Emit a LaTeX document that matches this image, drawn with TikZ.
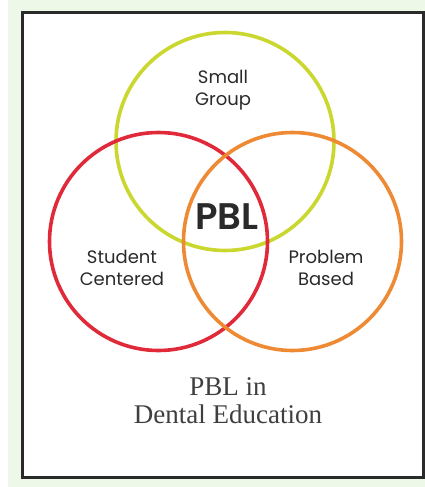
\documentclass[tikz,border=0pt]{standalone}
\usepackage{fontspec}
\setmainfont{Liberation Serif}
\newfontfamily\ringfont[BoldFont={* SemiBold}]{Poppins}
\definecolor{ringyellow}{HTML}{CAD72E}
\definecolor{ringred}{HTML}{E02A3A}
\definecolor{ringorange}{HTML}{EF8A34}
\definecolor{textgray}{HTML}{2A2A2A}
\definecolor{paper}{HTML}{EEF8E8}

\begin{document}
\begin{tikzpicture}[x=1pt, y=-1pt,
    ring/.style={line width=3.6pt},
    ringlabel/.style={align=center, text=textgray, font=\ringfont\fontsize{18}{22}\selectfont, inner sep=0pt}]
    % page and frame
    \useasboundingbox (0,0) rectangle (425,487);
    \fill [paper] (8,0) rectangle (425,487);
    \draw [fill=white, draw=textgray, line width=3pt] (22.5,13) rectangle (423.5,477);

    % the three circles
    \draw [ring, ringyellow] (225,141.5) circle (109);
    \draw [ring, ringred] (158.5,241.5) circle (109);
    \draw [ring, ringorange] (292.5,241.5) circle (109);

    \node [ringlabel] (small) at (223,90) {Small\\Group};
    \node [ringlabel] (student) at (122,268) {Student\\Centered};
    \node [ringlabel] (problem) at (326,268) {Problem\\Based};
    \node [text=textgray, font=\ringfont\bfseries\fontsize{37}{40}\selectfont, inner sep=0pt] (pbl) at (227,216.5) {PBL};

    \node [align=center, text=textgray!90, font=\fontsize{27}{28}\selectfont, inner sep=0pt] (title) at (228,401) {PBL in\\Dental Education};
\end{tikzpicture}
\end{document}
